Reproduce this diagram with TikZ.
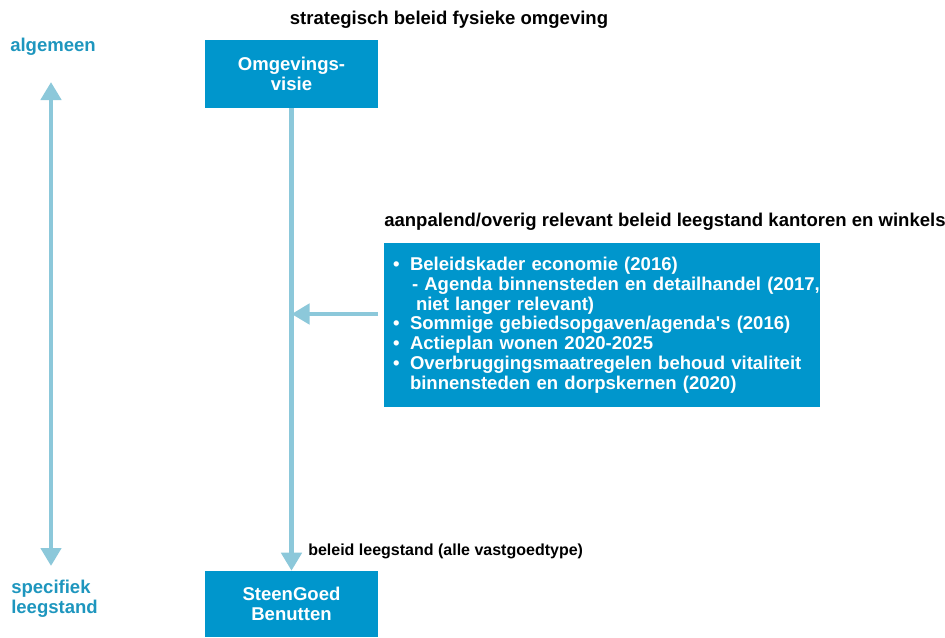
\documentclass[tikz,border=0pt]{standalone}
\usepackage{fontspec}
\setmainfont{Liberation Sans}[Ligatures=TeXOff]
\usetikzlibrary{arrows.meta}
\definecolor{boxblue}{RGB}{0,150,204}
\definecolor{arrowblue}{RGB}{140,200,218}
\definecolor{labelblue}{RGB}{30,150,190}
\newcommand\bigf{\fontsize{13.9}{14.8}\selectfont\bfseries}
\newcommand\smallf{\fontsize{12}{14}\selectfont\bfseries}
\newcommand\bul{\makebox[12.75pt][l]{•}}
\tikzset{
  bluebox/.style={rectangle, fill=boxblue, text=white, inner sep=0pt, font=\bigf, align=center},
  titletext/.style={inner sep=0pt, font=\bigf, text=black},
  sidetext/.style={inner sep=0pt, font=\bigf, text=labelblue, align=left},
  arr/.style={draw=arrowblue, line width=3.4pt, -{Triangle[width=15pt,length=13.5pt]}},
  darr/.style={draw=arrowblue, line width=3.4pt, {Triangle[width=15pt,length=13.5pt]}-{Triangle[width=15pt,length=13.5pt]}}
}
\begin{document}
\begin{tikzpicture}[x=0.75pt,y=-0.75pt]
\useasboundingbox (0,0) rectangle (945,637);
\node[titletext] (t1) at (449,20) {strategisch beleid fysieke omgeving};
\node[bluebox, minimum width=129.75pt, minimum height=51pt] (visie) at (291.5,74) {Omgevings-\\visie};
\node[sidetext] (alg) at (53,47) {algemeen};
\node[sidetext, anchor=west] (spec) at (11,599) {specifiek\\leegstand};
\coordinate (atop) at (51,82);
\coordinate (abot) at (51,566);
\draw[darr] (atop) -- (abot);
\node[bluebox, minimum width=129.75pt, minimum height=49.5pt] (steen) at (291.5,604) {SteenGoed\\Benutten};
\node[titletext, anchor=west] (t2) at (384,222) {aanpalend/overig relevant beleid leegstand kantoren en winkels};
\node[bluebox, minimum width=327pt, minimum height=123pt, text width=313.5pt, align=left, inner xsep=6.75pt, inner ysep=0pt] (rbox) at (602,325) {%
\bul Beleidskader economie (2016)\\
\mbox{\hspace*{14.25pt}- Agenda binnensteden en detailhandel (2017,}\\
\hspace*{17.25pt}niet langer relevant)\\
\bul Sommige gebiedsopgaven/agenda's (2016)\\
\bul Actieplan wonen 2020-2025\\
\bul Overbruggingsmaatregelen behoud vitaliteit\\
\hspace*{12.75pt}binnensteden en dorpskernen (2020)};
\node[inner sep=0pt, font=\smallf, anchor=west] (lab) at (308,551) {beleid leegstand (alle vastgoedtype)};
\draw[arr] (visie.south) -- (steen.north);
\coordinate (ha) at (378,314);
\draw[arr] (ha) -- (ha -| visie.south);
\end{tikzpicture}
\end{document}
